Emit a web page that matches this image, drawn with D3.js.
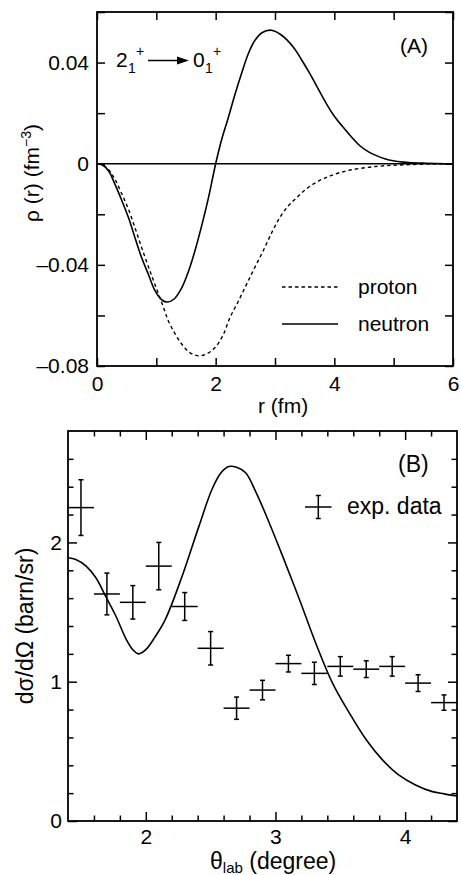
<!DOCTYPE html>
<html>
<head>
<meta charset="utf-8">
<script src="https://cdn.jsdelivr.net/npm/d3@7"></script>
<style>
html,body{margin:0;padding:0;background:#fff;}
svg{display:block;}
text{font-family:"Liberation Sans",Arial,Helvetica,sans-serif;fill:#000;}
</style>
</head>
<body>
<svg id="chart" width="461" height="875"></svg>
<script>
// ---------- Panel A data ----------
const neutronR   = [0,0.1,0.2,0.3,0.4,0.53,0.65,0.75,0.87,0.98,1.1,1.19,1.3,1.43,1.55,1.65,1.77,1.88,2.0,2.1,2.21,2.32,2.44,2.55,2.66,2.78,2.94,3.1,3.31,3.45,3.59,3.73,3.87,4.0,4.15,4.3,4.43,4.57,4.71,4.85,4.99,5.25,5.55,6.0];
const neutronRho = [0,-0.0006,-0.003,-0.008,-0.0135,-0.0213,-0.030,-0.037,-0.044,-0.0503,-0.0540,-0.0547,-0.0535,-0.049,-0.042,-0.0345,-0.024,-0.0133,0,0.0095,0.018,0.027,0.036,0.0435,0.0487,0.0518,0.0528,0.0510,0.0461,0.041,0.0355,0.0295,0.0236,0.0188,0.0144,0.0103,0.0071,0.0048,0.0032,0.002,0.0012,0.0005,0.0002,0];
const protonR    = [0,0.1,0.2,0.3,0.4,0.53,0.65,0.75,0.87,0.98,1.1,1.2,1.31,1.43,1.57,1.72,1.85,1.99,2.12,2.24,2.38,2.52,2.66,2.8,2.94,3.08,3.22,3.37,3.51,3.65,3.79,3.93,4.21,4.66,5.2,6.0];
const protonRho  = [0,-0.0005,-0.0025,-0.006,-0.011,-0.018,-0.026,-0.033,-0.041,-0.048,-0.0555,-0.062,-0.067,-0.0714,-0.0748,-0.076,-0.0752,-0.0727,-0.068,-0.0609,-0.0545,-0.0477,-0.041,-0.0345,-0.0275,-0.0213,-0.0168,-0.0133,-0.0103,-0.008,-0.0062,-0.0048,-0.0028,-0.0012,-0.0004,0];
const aXTicks = [0,2,4,6];
const aXMinor = [1,3,5];
const aYTicks = [-0.08,-0.04,0,0.04];
const aYMinor = [-0.06,-0.02,0.02,0.06];

// ---------- Panel B data ----------
const theoryTheta = [1.4,1.46,1.54,1.615,1.69,1.77,1.846,1.9,1.944,2.0,2.07,2.15,2.28,2.41,2.51,2.58,2.64,2.7,2.77,2.85,2.93,3.056,3.185,3.31,3.44,3.57,3.70,3.825,3.95,4.08,4.21,4.3,4.4];
const theoryXS    = [1.89,1.878,1.83,1.746,1.614,1.47,1.31,1.23,1.20,1.23,1.32,1.446,1.757,2.117,2.38,2.50,2.545,2.54,2.50,2.36,2.19,1.90,1.59,1.278,0.99,0.775,0.583,0.439,0.331,0.259,0.211,0.195,0.18];
const expTheta = [1.5,1.7,1.9,2.1,2.3,2.5,2.7,2.9,3.1,3.3,3.5,3.7,3.9,4.1,4.3];
const expXS    = [2.25,1.63,1.57,1.83,1.54,1.24,0.81,0.94,1.13,1.06,1.11,1.09,1.11,0.99,0.85];
const expErr   = [0.20,0.15,0.12,0.17,0.10,0.12,0.08,0.07,0.06,0.08,0.07,0.06,0.07,0.06,0.055];
const expBin   = 0.1;
const bXTicks = [2,3,4];
const bXMinor = [1.6,1.8,2.2,2.4,2.6,2.8,3.2,3.4,3.6,3.8,4.2];
const bYTicks = [0,1,2];
const bYMinor = [0.2,0.4,0.6,0.8,1.2,1.4,1.6,1.8,2.2,2.4,2.6];

const svg = d3.select("#chart");
const FSA = 21, FSB = 23, FST = 21;
const fmt = v => v === 0 ? "0" : (v < 0 ? "\u2013" : "") + Math.abs(v).toFixed(2);

function frameAxes(g, x, y, opt) {
  const [x0,x1] = x.range(), [y0,y1] = y.range();
  function ax(gen, tx, ty, vals, size, labels, pad, fmtF) {
    const a = gen.tickValues(vals).tickSize(size).tickSizeOuter(0).tickPadding(pad);
    a.tickFormat(labels ? fmtF : () => "");
    const s = g.append("g").attr("transform", `translate(${tx},${ty})`).call(a);
    s.select(".domain").remove();
    s.selectAll("line").attr("stroke", "#000").attr("stroke-width", 1.5);
    s.selectAll("text").attr("font-size", FST).attr("font-family", '"Liberation Sans",Arial,sans-serif').attr("fill","#000");
    return s;
  }
  ax(d3.axisBottom(x), 0, y0, opt.xt, -opt.maj, true, opt.xpad, opt.xfmt);
  ax(d3.axisBottom(x), 0, y0, opt.xm, -opt.min, false, 0);
  ax(d3.axisTop(x), 0, y1, opt.xt, -opt.maj, false, 0);
  ax(d3.axisTop(x), 0, y1, opt.xm, -opt.min, false, 0);
  ax(d3.axisLeft(y), x0, 0, opt.yt, -opt.maj, true, opt.ypad, opt.yfmt);
  ax(d3.axisLeft(y), x0, 0, opt.ym, -opt.min, false, 0);
  ax(d3.axisRight(y), x1, 0, opt.yt, -opt.maj, false, 0);
  ax(d3.axisRight(y), x1, 0, opt.ym, -opt.min, false, 0);
  g.append("rect").attr("x", x0).attr("y", y1).attr("width", x1 - x0).attr("height", y0 - y1)
    .attr("fill", "none").attr("stroke", "#000").attr("stroke-width", 1.8);
}

// ================= Panel A =================
const xA = d3.scaleLinear().domain([0, 6]).range([97, 453]);
const yA = d3.scaleLinear().domain([-0.08, 0.06]).range([366, 12]);
const gA = svg.append("g");

const lineA = d3.line().x(d => xA(d[0])).y(d => yA(d[1])).curve(d3.curveCatmullRom.alpha(0.5));
gA.append("line").attr("x1", xA(0)).attr("x2", xA(6)).attr("y1", yA(0)).attr("y2", yA(0))
  .attr("stroke", "#000").attr("stroke-width", 1.5);
gA.append("path").datum(protonR.map((r, i) => [r, protonRho[i]])).attr("d", lineA)
  .attr("fill", "none").attr("stroke", "#000").attr("stroke-width", 1.4).attr("stroke-dasharray", "3.5,3");
gA.append("path").datum(neutronR.map((r, i) => [r, neutronRho[i]])).attr("d", lineA)
  .attr("fill", "none").attr("stroke", "#000").attr("stroke-width", 1.6);

frameAxes(gA, xA, yA, {xt: aXTicks, xm: aXMinor, yt: aYTicks, ym: aYMinor, maj: 8, min: 8,
  xpad: 10, ypad: 8, xfmt: d => String(d), yfmt: fmt});

gA.append("text").attr("x", 258).attr("y", 413).attr("font-size", FSA).text("r (fm)");
const yt = gA.append("text").attr("transform", "translate(39,173) rotate(-90)")
  .attr("text-anchor", "middle").attr("font-size", FSA);
yt.append("tspan").text("\u03c1 (r) (fm");
yt.append("tspan").attr("font-size", 14).attr("dy", -8).text("\u22123");
yt.append("tspan").attr("dy", 8).text(")");

gA.append("text").attr("x", 400).attr("y", 53).attr("font-size", FSA).text("(A)");
gA.append("text").attr("x", 116).attr("y", 67).attr("font-size", FSA).text("2");
gA.append("text").attr("x", 128).attr("y", 73).attr("font-size", 14).text("1");
gA.append("text").attr("x", 136).attr("y", 56).attr("font-size", 14).text("+");
gA.append("line").attr("x1", 148).attr("x2", 180).attr("y1", 60.5).attr("y2", 60.5)
  .attr("stroke", "#000").attr("stroke-width", 1.5);
gA.append("path").attr("d", "M177,56.5 L189,60.5 L177,64.5 Z").attr("fill", "#000");
gA.append("text").attr("x", 193).attr("y", 67).attr("font-size", FSA).text("0");
gA.append("text").attr("x", 205).attr("y", 73).attr("font-size", 14).text("1");
gA.append("text").attr("x", 213).attr("y", 56).attr("font-size", 14).text("+");

gA.append("line").attr("x1", 282).attr("x2", 338).attr("y1", 287).attr("y2", 287)
  .attr("stroke", "#000").attr("stroke-width", 1.4).attr("stroke-dasharray", "3.5,3");
gA.append("text").attr("x", 358).attr("y", 294).attr("font-size", FSA).text("proton");
gA.append("line").attr("x1", 282).attr("x2", 338).attr("y1", 324).attr("y2", 324)
  .attr("stroke", "#000").attr("stroke-width", 1.6);
gA.append("text").attr("x", 358).attr("y", 331).attr("font-size", FSA).text("neutron");

// ================= Panel B =================
const xB = d3.scaleLinear().domain([1.4, 4.4]).range([68, 457]);
const yB = d3.scaleLinear().domain([0, 2.8]).range([821, 431]);
const gB = svg.append("g");

const lineB = d3.line().x(d => xB(d[0])).y(d => yB(d[1])).curve(d3.curveCatmullRom.alpha(0.5));
gB.append("path").datum(theoryTheta.map((t, i) => [t, theoryXS[i]])).attr("d", lineB)
  .attr("fill", "none").attr("stroke", "#000").attr("stroke-width", 1.6);

const pts = gB.selectAll("g.pt").data(expTheta.map((t, i) => ({t, v: expXS[i], e: expErr[i]})))
  .enter().append("g").attr("class", "pt");
pts.append("line").attr("x1", d => xB(d.t - expBin)).attr("x2", d => xB(Math.min(d.t + expBin, 4.4)))
  .attr("y1", d => yB(d.v)).attr("y2", d => yB(d.v)).attr("stroke", "#000").attr("stroke-width", 1.5);
pts.append("line").attr("x1", d => xB(d.t)).attr("x2", d => xB(d.t))
  .attr("y1", d => yB(d.v - d.e)).attr("y2", d => yB(d.v + d.e)).attr("stroke", "#000").attr("stroke-width", 1.5);
[-1, 1].forEach(s => {
  pts.append("line").attr("x1", d => xB(d.t) - 2.5).attr("x2", d => xB(d.t) + 2.5)
    .attr("y1", d => yB(d.v + s * d.e)).attr("y2", d => yB(d.v + s * d.e))
    .attr("stroke", "#000").attr("stroke-width", 1.5);
});

frameAxes(gB, xB, yB, {xt: bXTicks, xm: bXMinor, yt: bYTicks, ym: bYMinor, maj: 9, min: 5.5,
  xpad: 8, ypad: 6, xfmt: d => String(d), yfmt: d => String(d)});

const xtB = gB.append("text").attr("x", 210).attr("y", 869).attr("font-size", FSB);
xtB.append("tspan").text("\u03b8");
xtB.append("tspan").attr("font-size", 15).attr("dy", 4).text("lab");
xtB.append("tspan").attr("dy", -4).text(" (degree)");
gB.append("text").attr("transform", "translate(33,626) rotate(-90)")
  .attr("text-anchor", "middle").attr("font-size", FSB).text("d\u03c3/d\u03a9 (barn/sr)");

gB.append("text").attr("x", 398).attr("y", 472).attr("font-size", FSB).text("(B)");
gB.append("line").attr("x1", 305).attr("x2", 331.5).attr("y1", 507).attr("y2", 507).attr("stroke", "#000").attr("stroke-width", 1.5);
gB.append("line").attr("x1", 318.3).attr("x2", 318.3).attr("y1", 495.5).attr("y2", 518.5).attr("stroke", "#000").attr("stroke-width", 1.5);
gB.append("line").attr("x1", 315.8).attr("x2", 320.8).attr("y1", 495.5).attr("y2", 495.5).attr("stroke", "#000").attr("stroke-width", 1.5);
gB.append("line").attr("x1", 315.8).attr("x2", 320.8).attr("y1", 518.5).attr("y2", 518.5).attr("stroke", "#000").attr("stroke-width", 1.5);
gB.append("text").attr("x", 347).attr("y", 514).attr("font-size", FSB).text("exp. data");
</script>
</body>
</html>
